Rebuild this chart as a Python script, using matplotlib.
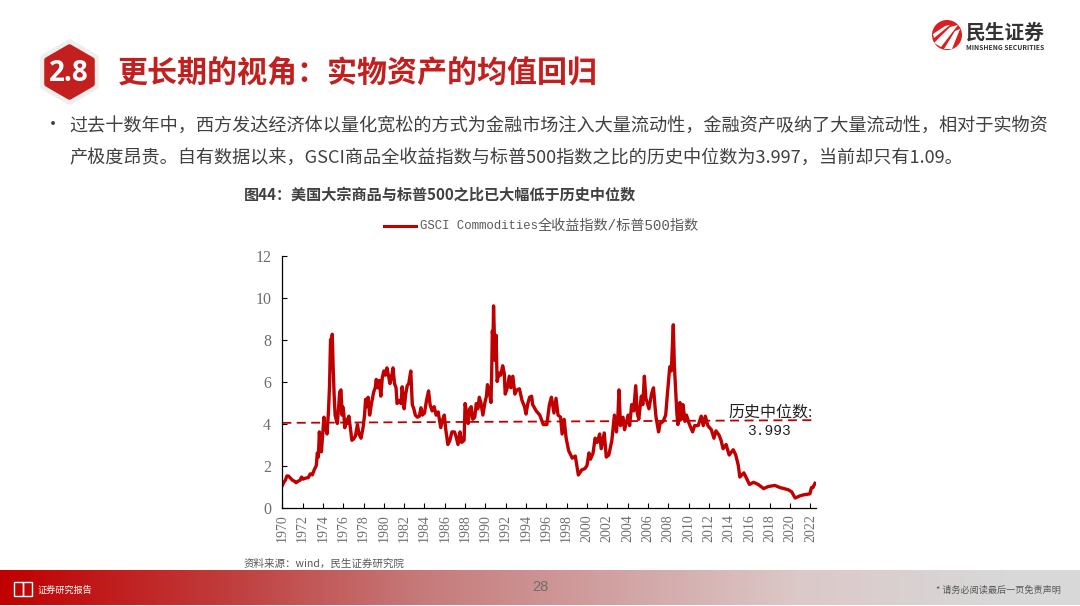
#!/usr/bin/env python3
"""GSCI Commodities total return / S&P 500 ratio, slide recreation."""
import numpy as np
import matplotlib
matplotlib.use("Agg")
import matplotlib.pyplot as plt
from matplotlib.colors import LinearSegmentedColormap
from matplotlib.patches import Circle, Polygon, Rectangle

plt.rcParams["font.family"] = ["Noto Sans CJK SC", "DejaVu Sans"]

# values
years = [
    1970.0, 1970.15, 1970.3, 1970.45, 1970.6, 1970.8, 1971.0, 1971.2, 1971.35, 1971.55,
    1971.75, 1971.9, 1972.05, 1972.3, 1972.55, 1972.75, 1972.95, 1973.15, 1973.35, 1973.45,
    1973.55, 1973.65, 1973.75, 1973.85, 1973.95, 1974.1, 1974.2, 1974.3, 1974.4, 1974.55,
    1974.65, 1974.75, 1974.85, 1974.92, 1975.0, 1975.1, 1975.2, 1975.3, 1975.42, 1975.55,
    1975.65, 1975.78, 1975.88, 1975.95, 1976.05, 1976.15, 1976.3, 1976.42, 1976.55, 1976.7,
    1976.85, 1977.0, 1977.2, 1977.4, 1977.55, 1977.75, 1977.95, 1978.1, 1978.2, 1978.32,
    1978.45, 1978.6, 1978.8, 1979.0, 1979.15, 1979.25, 1979.4, 1979.55, 1979.7, 1979.85,
    1980.0, 1980.15, 1980.3, 1980.45, 1980.6, 1980.75, 1980.9, 1981.05, 1981.2, 1981.3,
    1981.5, 1981.7, 1981.8, 1981.9, 1982.0, 1982.15, 1982.3, 1982.45, 1982.65, 1982.8,
    1982.95, 1983.1, 1983.3, 1983.5, 1983.65, 1983.8, 1984.0, 1984.2, 1984.4, 1984.55,
    1984.75, 1984.95, 1985.15, 1985.35, 1985.6, 1985.8, 1985.95, 1986.1, 1986.3, 1986.5,
    1986.7, 1986.95, 1987.1, 1987.3, 1987.5, 1987.65, 1987.9, 1988.0, 1988.15, 1988.3,
    1988.45, 1988.6, 1988.75, 1988.95, 1989.1, 1989.25, 1989.4, 1989.55, 1989.75, 1989.95,
    1990.1, 1990.2, 1990.35, 1990.55, 1990.62, 1990.68, 1990.75, 1990.8, 1990.95, 1991.05,
    1991.15, 1991.35, 1991.5, 1991.7, 1991.85, 1991.95, 1992.15, 1992.35, 1992.5, 1992.7,
    1992.9, 1993.1, 1993.35, 1993.6, 1993.85, 1994.0, 1994.15, 1994.35, 1994.55, 1994.65,
    1995.0, 1995.35, 1995.7, 1996.05, 1996.3, 1996.5, 1996.75, 1996.95, 1997.15, 1997.4,
    1997.55, 1997.75, 1997.95, 1998.2, 1998.55, 1998.85, 1999.0, 1999.15, 1999.5, 1999.8,
    2000.0, 2000.2, 2000.35, 2000.6, 2000.8, 2001.0, 2001.25, 2001.4, 2001.7, 2001.9,
    2002.15, 2002.45, 2002.7, 2002.9, 2003.05, 2003.15, 2003.3, 2003.55, 2003.7, 2004.05,
    2004.2, 2004.4, 2004.6, 2004.8, 2004.95, 2005.1, 2005.35, 2005.5, 2005.65, 2005.8,
    2006.1, 2006.35, 2006.55, 2006.7, 2006.8, 2007.05, 2007.2, 2007.5, 2007.75, 2007.9,
    2008.15, 2008.3, 2008.5, 2008.6, 2008.7, 2008.85, 2008.95, 2009.15, 2009.3, 2009.45,
    2009.65, 2009.8, 2010.05, 2010.4, 2010.6, 2010.95, 2011.25, 2011.45, 2011.65, 2011.9,
    2012.25, 2012.5, 2012.7, 2013.0, 2013.2, 2013.4, 2013.7, 2014.0, 2014.4, 2014.65,
    2014.9, 2015.05, 2015.45, 2015.7, 2016.0, 2016.4, 2016.85, 2017.4, 2017.85, 2018.5,
    2019.0, 2019.8, 2020.15, 2020.5, 2020.95, 2021.3, 2021.95, 2022.1, 2022.25, 2022.45,
]
ratio = [
    1.05, 1.2, 1.3, 1.5, 1.5, 1.4, 1.3, 1.25, 1.18, 1.25,
    1.3, 1.45, 1.35, 1.4, 1.42, 1.6, 1.55, 1.8, 2.0, 2.6,
    2.4, 3.6, 2.9, 2.65, 3.3, 4.3, 3.7, 3.9, 3.5, 4.6,
    5.8, 8.0, 7.8, 8.25, 6.8, 5.4, 4.4, 4.2, 4.0, 4.8,
    5.5, 5.6, 4.4, 4.8, 4.5, 3.8, 4.2, 4.0, 4.35, 3.8,
    3.2, 3.25, 3.4, 3.95, 3.5, 3.3, 3.8, 4.4, 5.15, 4.8,
    5.25, 4.4, 5.0, 5.5, 5.7, 6.1, 5.7, 6.05, 5.3, 6.2,
    6.5, 6.3, 6.65, 6.3, 5.9, 6.2, 6.65, 5.9, 5.7, 4.95,
    5.1, 4.95, 5.75, 5.2, 4.7, 5.4, 5.8, 5.9, 6.5, 4.9,
    4.7, 4.4, 4.3, 4.35, 4.75, 4.4, 4.5, 5.1, 5.55, 4.9,
    4.6, 4.8, 4.4, 4.55, 3.8, 4.2, 4.4, 3.7, 3.0, 3.2,
    3.6, 3.6, 3.4, 3.0, 3.6, 3.1, 3.2, 4.95, 4.5, 4.0,
    4.7, 4.8, 4.2, 4.3, 4.95, 4.7, 5.25, 5.0, 4.4, 5.0,
    5.3, 5.85, 5.6, 5.0, 6.5, 8.4, 8.0, 9.6, 7.0, 8.2,
    6.0, 6.4, 6.3, 6.75, 6.4, 5.4, 5.7, 6.25, 5.7, 6.25,
    5.4, 5.6, 5.65, 5.1, 4.8, 4.45, 4.9, 5.25, 5.3, 4.9,
    4.6, 4.4, 3.95, 3.95, 4.9, 5.25, 4.5, 5.2, 4.4, 4.3,
    3.5, 4.2, 3.3, 2.7, 2.35, 2.45, 2.0, 1.55, 1.8, 1.85,
    2.0, 2.6, 2.3, 2.6, 3.3, 3.1, 3.5, 2.8, 3.55, 2.4,
    2.5, 3.2, 4.4, 3.6, 4.4, 5.6, 3.9, 4.3, 3.7, 4.4,
    3.9, 4.9, 4.6, 5.8, 4.5, 4.2, 5.3, 4.9, 6.25, 5.2,
    4.7, 5.4, 5.7, 4.8, 4.3, 3.6, 4.0, 4.1, 4.4, 5.3,
    6.7, 6.5, 8.7, 6.8, 5.9, 4.5, 3.95, 5.0, 4.2, 4.9,
    4.1, 4.4, 4.0, 3.6, 3.9, 3.9, 4.35, 3.9, 4.35, 3.9,
    3.7, 3.3, 3.65, 3.45, 3.2, 2.8, 3.0, 2.5, 2.75, 2.5,
    2.0, 1.45, 1.65, 1.4, 1.1, 1.2, 1.1, 0.9, 1.0, 1.05,
    0.95, 0.85, 0.75, 0.45, 0.55, 0.6, 0.65, 0.95, 0.95, 1.15,
]
median_years = [1970.0, 2022.45]
median_values = [4.03, 4.16]
x_ticks = list(range(1970, 2024, 2))
y_ticks = [0, 2, 4, 6, 8, 10, 12]

W, H = 1080, 606
RED = "#c00000"
GREY = "#595959"
SERIF = ["Liberation Serif", "Noto Sans CJK SC"]
MONO = ["Liberation Mono", "Noto Sans CJK SC"]

fig = plt.figure(figsize=(W / 100, H / 100), dpi=100)

# whole slide in pixel coordinates for the decorations
bg = fig.add_axes([0, 0, 1, 1])
bg.set_xlim(0, W)
bg.set_ylim(H, 0)
bg.axis("off")

# footer band
cmap = LinearSegmentedColormap.from_list(
    "band", [(0, "#c00000"), (0.2, "#c03a3a"), (0.39, "#c67a7a"), (0.74, "#dcc8c8"), (0.93, "#d8d8d8"), (1, "#d8d8d8")])
bg.imshow(np.linspace(0, 1, 540)[None, :], cmap=cmap, extent=(0, W, 605, 570), aspect="auto", zorder=1)
bg.set_xlim(0, W)
bg.set_ylim(H, 0)
bg.add_patch(Rectangle((14, 582), 9, 14, fill=False, ec="white", lw=1, zorder=3))
bg.add_patch(Rectangle((23, 582), 9, 14, fill=False, ec="white", lw=1, zorder=3))
bg.text(38, 590, "证券研究报告", color="white", fontsize=6.6, va="center", zorder=3)
bg.text(540, 587, "28", color="#6e6e6e", fontsize=10.5, ha="center", va="center", zorder=3,
        family=["Liberation Sans", "Noto Sans CJK SC"])
bg.text(1061, 590, "* 请务必阅读最后一页免责声明", color="#595959", fontsize=6.6, ha="right", va="center", zorder=3)

# section badge, thick round-joined edge gives the soft corners
halo = [(69.5, 43), (95, 58), (95, 86), (69.5, 101), (44, 86), (44, 58)]
hexagon = [(69.5, 47), (92, 60), (92, 84), (69.5, 97), (47, 84), (47, 60)]
bg.add_patch(Polygon(halo, closed=True, fc="#eeeeee", ec="#eeeeee", lw=5.5, joinstyle="round"))
bg.add_patch(Polygon(hexagon, closed=True, fc="#c41f1f", ec="#c41f1f", lw=4, joinstyle="round"))
bg.text(69, 73.5, "2.8", color="white", fontsize=20, fontweight="bold", ha="center", va="center",
        family=["Open Sans", "Noto Sans CJK SC"])
bg.text(118, 73, "更长期的视角：实物资产的均值回归", color="#c41f1f", fontsize=21.6, fontweight="bold", va="center")

# logo
bg.add_patch(Circle((947, 35), 15, fc="#d7201f", ec="none"))
bg.add_patch(Polygon([(934, 43), (950, 27), (958, 25), (941, 47)], closed=True, fc="white", ec="none"))
bg.add_patch(Polygon([(944, 49), (955, 31), (960, 29), (952, 49)], closed=True, fc="white", ec="none"))
bg.add_patch(Polygon([(933, 34), (945, 26), (950, 25), (934, 38)], closed=True, fc="white", ec="none"))
bg.text(966, 33, "民生证券", color="#333333", fontsize=14.2, fontweight="bold", va="center")
bg.text(966, 47.5, "MINSHENG SECURITIES", color="#333333", fontsize=4.9, fontweight="bold", va="center")

# body text
bg.text(44, 125, "•", color="#404040", fontsize=13, va="center")
bg.text(69, 125.5, "过去十数年中，西方发达经济体以量化宽松的方式为金融市场注入大量流动性，金融资产吸纳了大量流动性，相对于实物资",
        color="#404040", fontsize=13.08, va="center")
bg.text(69, 157.5, "产极度昂贵。自有数据以来，GSCI商品全收益指数与标普500指数之比的历史中位数为3.997，当前却只有1.09。",
        color="#404040", fontsize=13.08, va="center")
bg.text(244, 195, "图44：美国大宗商品与标普500之比已大幅低于历史中位数", color="#404040", fontsize=10.9, fontweight="bold", va="center")
bg.text(244, 563.5, "资料来源：wind，民生证券研究院", color=GREY, fontsize=7.6, va="center")

# the chart itself
left, right, top, bottom = 282.3, 816.0, 255.5, 507.5
ax = fig.add_axes([left / W, 1 - bottom / H, (right - left) / W, (bottom - top) / H])
ax.patch.set_alpha(0)
ax.plot(years, ratio, color=RED, lw=2.4, solid_joinstyle="round")
ax.plot(median_years, median_values, color=RED, lw=1.3, dashes=(5, 3))
ax.set_xlim(1970, 2022.55)
ax.set_ylim(0, 12)
ax.set_xticks(x_ticks)
ax.set_xticklabels([str(y) for y in x_ticks], rotation=90, family=SERIF, fontsize=10, color="#6e6e6e")
ax.set_yticks(y_ticks)
ax.set_yticklabels([str(y) for y in y_ticks], family=SERIF, fontsize=11.5, color="#6e6e6e",
                   va="center_baseline")
ax.tick_params(axis="both", direction="in", length=3.5, width=0.8, color="black")
ax.tick_params(axis="y", pad=8)
ax.tick_params(axis="x", pad=5)
ax.spines["top"].set_visible(False)
ax.spines["right"].set_visible(False)
for side in ("left", "bottom"):
    ax.spines[side].set_linewidth(0.9)

ax.text(2018.1, 4.52, "历史中位数:", ha="center", va="center", fontsize=11.5, color="#222222", family=SERIF)
ax.text(2017.9, 3.65, "3.993", ha="center", va="center", fontsize=10.5, color="#222222", family=MONO)

# legend sits outside the axes, placed in slide pixels
bg.plot([384, 416], [226, 226], color=RED, lw=2.2, zorder=3)
bg.text(420, 226, "GSCI Commodities", color=GREY, fontsize=8.9, va="center", family=MONO)
bg.text(538, 226, "全收益指数/标普500指数", color=GREY, fontsize=10.2, va="center", family=MONO)

fig.savefig("out.png", dpi=100)
print("wrote out.png")
